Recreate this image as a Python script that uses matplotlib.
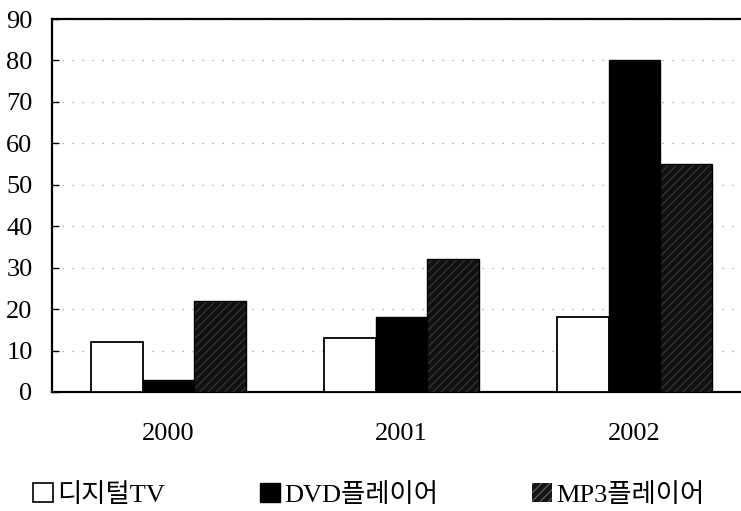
import matplotlib
matplotlib.use("Agg")
import matplotlib.pyplot as plt
import numpy as np
from matplotlib.patches import Patch

plt.rcParams['font.family'] = ['Liberation Serif', 'Noto Sans CJK KR']
plt.rcParams['hatch.linewidth'] = 0.8

years = ["2000", "2001", "2002"]
series_names = ["디지털TV", "DVD플레이어", "MP3플레이어"]
digital_tv = [12, 13, 18]
dvd_player = [3, 18, 80]
mp3_player = [22, 32, 55]

fig = plt.figure(figsize=(7.41, 5.11), dpi=100)
fig.set_facecolor("white")
ax = fig.add_axes([0.0702, 0.2329, 0.9298, 0.7299])

x = np.arange(len(years))
w = 0.223

ax.bar(x - w, digital_tv, w, color="white", edgecolor="black", lw=1.3, zorder=3)
ax.bar(x, dvd_player, w, color="black", edgecolor="black", lw=1.0, zorder=3)
ax.bar(x + w, mp3_player, w, color="#111111", edgecolor="#3a3a3a",
       hatch="////", lw=0, zorder=3)
# outline for the hatched bars
ax.bar(x + w, mp3_player, w, fill=False, edgecolor="black", lw=1.0, zorder=4)

ax.set_xlim(-0.5, 2.457)
ax.set_ylim(0, 90)
ax.set_yticks(range(0, 91, 10))
ax.set_xticks(x)
ax.set_xticklabels(years, fontsize=19)
ax.tick_params(axis="x", length=0, pad=22)
ax.tick_params(axis="y", direction="in", length=5, width=1, labelsize=19, pad=14)

ax.yaxis.grid(True, linestyle=(0, (1, 7)), color="#999999", lw=0.9, zorder=0)
for s in ["top", "left", "bottom"]:
    ax.spines[s].set_linewidth(1.6)
ax.spines["right"].set_visible(False)

handles = [
    Patch(facecolor="white", edgecolor="black", lw=1.2),
    Patch(facecolor="black", edgecolor="black"),
    Patch(facecolor="#141414", edgecolor="#666666", hatch="////", lw=0),
]
xpos = [0.0445, 0.351, 0.718]
for h, name, xp in zip(handles, series_names, xpos):
    fig.legend([h], [name], loc="center left", bbox_to_anchor=(xp, 0.032),
               frameon=False, fontsize=19, handlelength=0.75, handleheight=0.75,
               handletextpad=0.15, borderpad=0, borderaxespad=0)

fig.savefig("out.png", dpi=100)
